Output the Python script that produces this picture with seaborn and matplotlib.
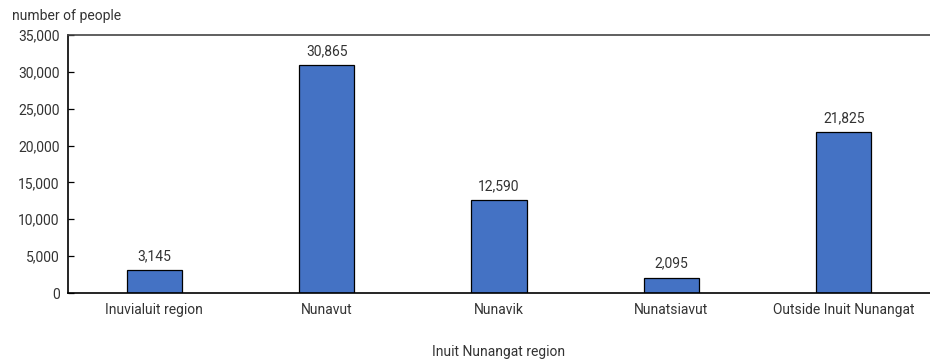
import matplotlib
matplotlib.use("Agg")
import matplotlib.pyplot as plt
import seaborn as sns
import pandas as pd
from matplotlib.ticker import FuncFormatter

regions = ["Inuvialuit region", "Nunavut", "Nunavik", "Nunatsiavut", "Outside Inuit Nunangat"]
people = [3145, 30865, 12590, 2095, 21825]
y_ticks = [0, 5000, 10000, 15000, 20000, 25000, 30000, 35000]

sns.set_theme(style="white")
plt.rcParams["font.family"] = ["Roboto", "DejaVu Sans"]
text_color = "#333333"
fs = 10

df = pd.DataFrame({"region": regions, "people": people})

fig = plt.figure(figsize=(9.3, 3.6), dpi=100)
ax = fig.add_axes([0.0731, 0.186, 0.9269, 0.717])

sns.barplot(data=df, x="region", y="people", color="#4472C4", saturation=1,
            edgecolor="black", linewidth=0.9, width=0.32, ax=ax)

ax.bar_label(ax.containers[0], labels=[f"{v:,}" for v in people],
             padding=5, fontsize=fs, color=text_color)

ax.set_ylim(y_ticks[0], y_ticks[-1])
ax.set_yticks(y_ticks)
ax.yaxis.set_major_formatter(FuncFormatter(lambda v, p: f"{int(v):,}"))
ax.tick_params(axis="y", direction="in", length=4, width=0.9, color="black",
               labelsize=fs, labelcolor=text_color, pad=6, left=True)
ax.tick_params(axis="x", length=0, labelsize=fs, labelcolor=text_color, pad=7)

for side in ["left", "bottom", "top"]:
    ax.spines[side].set_visible(True)
    ax.spines[side].set_color("black")
    ax.spines[side].set_linewidth(1.2)
ax.spines["top"].set_color("#444444")
ax.spines["right"].set_visible(False)

ax.set_xlabel("")
ax.set_ylabel("")
fig.text(0.5366, 0.022, "Inuit Nunangat region", fontsize=fs, color=text_color,
         ha="center", va="center")
fig.text(0.013, 0.955, "number of people", fontsize=fs, color=text_color,
         ha="left", va="center")

fig.savefig("out.png", dpi=100)
